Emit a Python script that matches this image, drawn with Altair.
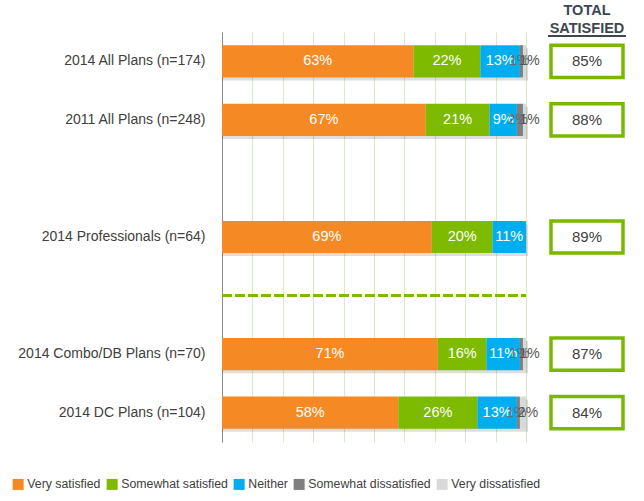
import altair as alt
import pandas as pd

# ---------------- data ----------------
groups = ["2014 All Plans (n=174)", "2011 All Plans (n=248)", "2014 Professionals (n=64)",
          "2014 Combo/DB Plans (n=70)", "2014 DC Plans (n=104)"]
rows = ["2014 All Plans (n=174)", "2011 All Plans (n=248)", "gap1", "2014 Professionals (n=64)",
        "gap2", "2014 Combo/DB Plans (n=70)", "2014 DC Plans (n=104)"]
levels = ["Very satisfied", "Somewhat satisfied", "Neither", "Somewhat dissatisfied", "Very dissatisfied"]
colors = ["#F58A25", "#7DBA00", "#00AEEF", "#7F7F7F", "#D9D9D9"]
very_sat = [63, 67, 69, 71, 58]
somewhat_sat = [22, 21, 20, 16, 26]
neither = [13, 9, 11, 11, 13]
somewhat_dis = [1, 2, 0, 1, 1]
very_dis = [1, 1, 0, 1, 2]
total_sat = [85, 88, 89, 87, 84]
grid_ticks = list(range(0, 101, 10))
divider_row = "gap2"
header_lines = ["TOTAL", "SATISFIED"]

series = [very_sat, somewhat_sat, neither, somewhat_dis, very_dis]
recs = []
for li, (lvl, vals) in enumerate(zip(levels, series)):
    for g, v in zip(groups, vals):
        recs.append({"group": g, "level": lvl, "order": li, "value": v})
df = pd.DataFrame(recs)

FONT = "Liberation Sans"
TXT = "#404040"
GREEN = "#7AB800"

yscale = alt.Scale(domain=rows, paddingInner=0.45, paddingOuter=0.225)
yaxis = alt.Axis(
    labelExpr="indexof(datum.value, 'gap') == 0 ? '' : datum.value",
    domain=True, domainColor="#8C8C8C", domainWidth=1, ticks=False, grid=False,
    labelPadding=17, labelFontSize=14, labelColor=TXT, labelFont=FONT,
    labelLimit=230, minExtent=216, maxExtent=216, title=None,
)
xaxis = alt.Axis(values=grid_ticks, grid=True, gridColor="#D7EBC5", gridWidth=1,
                 labels=False, ticks=False, domain=False, title=None)
xscale = alt.Scale(domain=[0, 100], nice=False)

base = alt.Chart(df)

shadow = base.transform_aggregate(total="sum(value)", groupby=["group"]).mark_bar(
    color="#000000", opacity=0.13
).encode(
    y=alt.Y("group:N", scale=yscale, axis=yaxis, title=None),
    x=alt.X("total:Q", stack=None, scale=xscale, axis=xaxis, title=None),
    yOffset=alt.value(3),
    xOffset=alt.value(2),
)

bars = base.mark_bar().encode(
    y=alt.Y("group:N", scale=yscale, axis=yaxis, title=None),
    x=alt.X("value:Q", stack="zero", scale=xscale, axis=xaxis, title=None),
    color=alt.Color("level:N", scale=alt.Scale(domain=levels, range=colors),
                    legend=alt.Legend(orient="none", legendX=-210, legendY=446, direction="horizontal",
                                      columns=5, symbolType="square", symbolSize=121,
                                      symbolStrokeWidth=0, labelFontSize=12.3, labelFont=FONT,
                                      labelColor=TXT, columnPadding=5, labelOffset=3, title=None)),
    order=alt.Order("order:Q"),
)

stacked = base.transform_stack(
    stack="value", groupby=["group"], sort=[alt.SortField("order")], as_=["x0", "x1"]
).transform_calculate(
    mid="(datum.x0 + datum.x1) / 2", label="datum.value + '%'"
)

enc = dict(
    y=alt.Y("group:N", scale=yscale, axis=yaxis, title=None),
    x=alt.X("mid:Q", scale=xscale, axis=xaxis, title=None),
    text="label:N",
)

big_labels = stacked.transform_filter("datum.value >= 5").mark_text(
    font=FONT, fontSize=14.5, color="white"
).encode(**enc)
sd_labels = stacked.transform_filter(
    "datum.value > 0 && datum.value < 5 && datum.level == 'Somewhat dissatisfied'"
).mark_text(font=FONT, fontSize=14, color="#6A6A6A", dx=-2).encode(**enc)
vd_labels = stacked.transform_filter(
    "datum.value > 0 && datum.value < 5 && datum.level == 'Very dissatisfied'"
).mark_text(font=FONT, fontSize=14, color="#555555", dx=5).encode(**enc)

div_df = pd.DataFrame({"group": [divider_row], "start": [0], "end": [100]})
divider = alt.Chart(div_df).mark_rule(color="#7DBA00", strokeWidth=3, strokeDash=[10, 3]).encode(
    y=alt.Y("group:N", scale=yscale, axis=yaxis, title=None),
    x=alt.X("start:Q", scale=xscale, axis=xaxis, title=None),
    x2="end:Q",
)

left = alt.layer(shadow, bars, big_labels, sd_labels, vd_labels, divider).properties(width=304, height=410)

# ---------------- right panel ----------------
box_df = pd.DataFrame({"group": groups, "total": total_sat})
box_df["label"] = box_df["total"].astype(str) + "%"

boxes = alt.Chart(box_df).mark_rect(fill="white", stroke=GREEN, strokeWidth=3.5).encode(
    y=alt.Y("group:N", scale=yscale, axis=None),
    x=alt.value(4), x2=alt.value(76),
)
box_text = alt.Chart(box_df).mark_text(font=FONT, fontSize=15, color=TXT).encode(
    y=alt.Y("group:N", scale=yscale, axis=None),
    x=alt.value(40),
    text="label:N",
)
h1 = alt.Chart(pd.DataFrame({"t": [header_lines[0]]})).mark_text(
    font=FONT, fontSize=14.5, fontWeight="bold", color="#3D4752", baseline="alphabetic"
).encode(x=alt.value(40), y=alt.value(-17), text="t:N")
h2 = alt.Chart(pd.DataFrame({"t": [header_lines[1]]})).mark_text(
    font=FONT, fontSize=14.5, fontWeight="bold", color="#3D4752", baseline="alphabetic"
).encode(x=alt.value(40), y=alt.value(1), text="t:N")
uline = alt.Chart(pd.DataFrame({"t": [header_lines[1]]})).mark_rule(
    color="#3D4752", strokeWidth=2
).encode(x=alt.value(1), x2=alt.value(79), y=alt.value(4))

right = alt.layer(boxes, box_text, h1, h2, uline).properties(width=80, height=410)

chart = alt.hconcat(left, right, spacing=5).properties(
    padding={"left": 5, "top": 2, "right": 5, "bottom": 5}
).configure_view(stroke="transparent")

chart.save("out.html", embed_options={"renderer": "svg", "actions": False})
